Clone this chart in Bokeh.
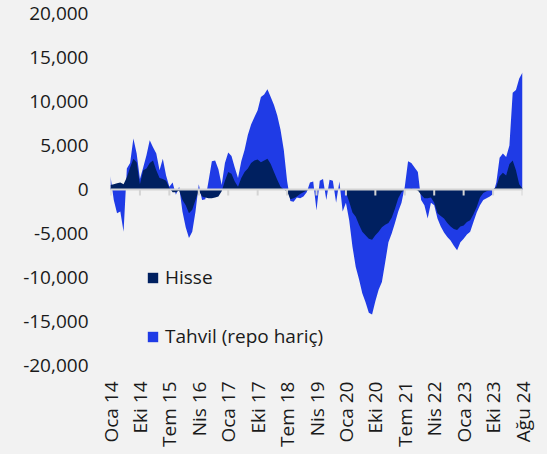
import numpy as np
from bokeh.plotting import figure
from bokeh.models import (ColumnDataSource, Range1d, FixedTicker, NumeralTickFormatter,
                          Span, Legend, LegendItem)
from bokeh.embed import file_html
from bokeh.resources import INLINE
from jinja2 import Template

# Monthly values, Oca 2014 .. Ağu 2024 (index = month)
hisse = [500, 600, 700, 800, 600, 1400, 2500, 3500, 3100, 600,
         2200, 2400, 3000, 3300, 2200, 1300, 1200, 1000, 200, -300,
         -300, -100, -1200, -1800, -2700, -2300, -1200, -100, -800, -900,
         -1000, -1000, -900, -800, -200, 1000, 2000, 1800, 900, 300,
         1300, 2000, 2400, 3000, 3300, 3400, 3100, 3300, 3500, 2900,
         2000, 1100, 300, 0, -200, -1100, -1000, -800, -500, -300,
         -100, 0, 0, 0, 0, 0, 0, 0, 0, 0,
         0, 0, -300, -1400, -2600, -3100, -4000, -4800, -5200, -5600,
         -5700, -5200, -4800, -4300, -4000, -3800, -3200, -2200, -1000, -300,
         0, 0, 100, 0, -100, -600, -1000, -1000, -900, -1500,
         -2700, -3000, -3300, -3800, -4200, -4500, -4600, -4200, -4100, -3700,
         -3500, -2800, -2000, -900, -400, -200, -100, 0, 300, 1500,
         1900, 1600, 2900, 3300, 2200, 600, 100]

tahvil = [1000, -1800, -3400, -3300, -5400, 1000, 500, 2300, 1000, 600,
          300, 1500, 2600, 1500, 1900, 900, 2300, 600, 100, 1100,
          -300, 400, -1300, -2500, -2800, -2500, -1300, 700, -400, -200,
          2000, 4200, 4200, 3100, 700, 2000, 2200, 2000, 1600, 1000,
          1900, 2500, 3800, 4400, 4900, 5600, 7400, 7500, 7900, 7600,
          7600, 7300, 6500, 4500, 1200, -200, -400, -100, -500, -500,
          -200, 800, 900, -2400, 1000, 1200, -1200, 1100, 1000, -1500,
          900, -2500, -1200, -2100, -3900, -5700, -6200, -7000, -7600, -8400,
          -8500, -7500, -6600, -6200, -4300, -2200, -1800, -1600, -1500, -1200,
          300, 3200, 2900, 2500, 2100, -600, -800, -2300, -600, -300,
          -600, -1200, -1600, -1600, -1600, -1900, -2300, -1800, -1500, -1400,
          -1300, -900, -600, -900, -800, -800, -700, -500, 500, 2100,
          2200, 2100, 2100, 7700, 9100, 12000, 13200]

tick_pos = [0, 9, 18, 27, 36, 45, 54, 63, 72, 81, 90, 99, 108, 117, 126]
tick_labels = ["Oca 14", "Eki 14", "Tem 15", "Nis 16", "Oca 17", "Eki 17", "Tem 18",
               "Nis 19", "Oca 20", "Eki 20", "Tem 21", "Nis 22", "Oca 23", "Eki 23", "Ağu 24"]
y_ticks = [-20000, -15000, -10000, -5000, 0, 5000, 10000, 15000, 20000]

NAVY = "#002060"
BLUE = "#1f3be6"
BG = "#f2f2f2"
TXT = "#1a1a1a"
FONT = "Open Sans"

x = list(range(len(hisse)))
total = [h + t for h, t in zip(hisse, tahvil)]
src = ColumnDataSource(dict(x=x, hisse=hisse, total=total))

p = figure(width=547, height=454, output_backend="svg", toolbar_location=None,
           x_range=Range1d(tick_pos[0], tick_pos[-1]), y_range=Range1d(y_ticks[0], y_ticks[-1]),
           min_border_left=110, min_border_right=25, min_border_top=13, min_border_bottom=89,
           background_fill_color=BG, border_fill_color=BG, outline_line_color=None)

r_t = p.varea(x="x", y1=0, y2="total", source=src, fill_color=BLUE)
r_h = p.varea(x="x", y1=0, y2="hisse", source=src, fill_color=NAVY)

p.add_layout(Span(location=0, dimension="width", line_color="#d4d4d4", line_width=2))
tick_len = 6 * (y_ticks[-1] - y_ticks[0]) / 352.0
p.segment(x0=tick_pos, y0=[0] * len(tick_pos), x1=tick_pos, y1=[-tick_len] * len(tick_pos),
          line_color="#d4d4d4", line_width=2)

p.grid.visible = False

xa = p.xaxis[0]
xa.ticker = FixedTicker(ticks=tick_pos)
xa.major_label_overrides = {t: l for t, l in zip(tick_pos, tick_labels)}
xa.major_label_orientation = np.pi / 2
xa.axis_line_color = None
xa.major_tick_line_color = None
xa.minor_tick_line_color = None
xa.major_tick_out = 0
xa.major_tick_in = 0
xa.major_label_standoff = 16
xa.major_label_text_font = FONT
xa.major_label_text_font_size = "19px"
xa.major_label_text_color = TXT

ya = p.yaxis[0]
ya.ticker = FixedTicker(ticks=y_ticks)
ya.formatter = NumeralTickFormatter(format="0,0")
ya.axis_line_color = None
ya.major_tick_line_color = None
ya.minor_tick_line_color = None
ya.major_tick_out = 0
ya.major_tick_in = 0
ya.major_label_standoff = 22
ya.major_label_text_font = FONT
ya.major_label_text_font_size = "19px"
ya.major_label_text_color = TXT

legend = Legend(items=[LegendItem(label="Hisse", renderers=[r_h]),
                       LegendItem(label="Tahvil (repo hariç)", renderers=[r_t])],
                location=(36, 16), orientation="vertical",
                glyph_width=13, glyph_height=13, label_standoff=6, spacing=33,
                padding=0, margin=0,
                background_fill_alpha=0, border_line_alpha=0,
                label_text_font=FONT, label_text_font_size="19px", label_text_color=TXT)
p.add_layout(legend)

tmpl = Template("""{% extends base %}
{% block preamble %}<style>html, body { background: #f2f2f2; }</style>{% endblock %}""")
open("out.html", "w").write(file_html(p, INLINE, template=tmpl))
